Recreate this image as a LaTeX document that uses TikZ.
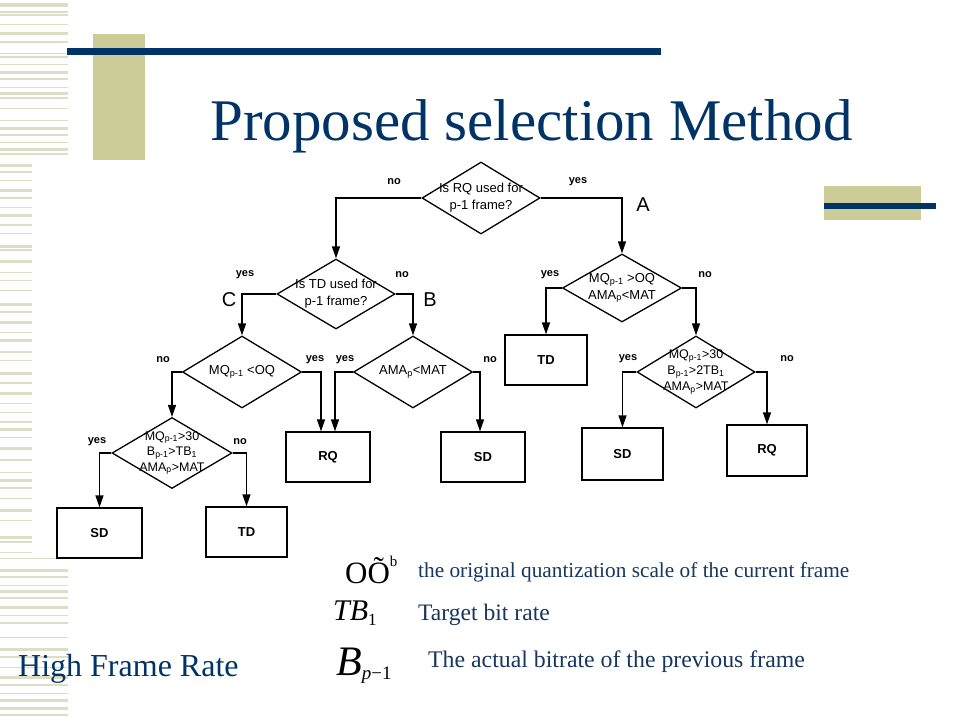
\documentclass[tikz,border=0pt]{standalone}
\usepackage{fontspec}
\setmainfont{Liberation Serif}
\newfontfamily\flowfont{Liberation Sans}
\usetikzlibrary{shapes.geometric,arrows.meta}
\definecolor{navy}{RGB}{0,51,102}
\definecolor{beige}{RGB}{204,204,153}
\definecolor{stripe}{RGB}{222,222,198}
\definecolor{legendblue}{RGB}{23,55,94}
\begin{document}
\begin{tikzpicture}[x=1pt,y=-1pt,
  dia/.style={diamond,draw,line width=1.3pt,inner sep=0pt},
  dtext/.style={font=\flowfont\fontsize{13}{17}\selectfont,align=center,inner sep=0pt},
  fbox/.style={draw,line width=1.3pt,inner sep=0pt,font=\flowfont\bfseries\fontsize{13}{13}\selectfont},
  arr/.style={line width=1.3pt,-{Triangle[width=8pt,length=12pt]}},
  lab/.style={font=\flowfont\bfseries\fontsize{11}{11}\selectfont,inner sep=0pt},
  big/.style={font=\flowfont\fontsize{20}{20}\selectfont,inner sep=0pt},
  legtext/.style={anchor=base west,inner sep=0pt,text=legendblue},
  sym/.style={anchor=base west,inner sep=0pt}]
\useasboundingbox (0,0) rectangle (960,720);
\fill[white] (0,0) rectangle (960,720);
% left stripes
\foreach \y/\t in {5/4,12/1.5,15/1.5,24/1,33/3,42/1.5,53/1,57/1.5,64/1,72/3,79/1.5,87/1,93/3,98/1.5,108/1,120/1,128/3,135/1.5,142/1,149/3,154/1.5}
  \fill[stripe] (0,\y-\t/2) rectangle (68,\y+\t/2);
\foreach \y/\t in {165/3,172/1.5,180/1,190/3,198/1.5,207/1,215/3,225/1.5,233/1,246/3,250/1.5,261/3,272/1,280/1,290/1,304/3,312/1.5,322/3,332/1,340/3,352/1.5,360/1,373/3,383/1.5,393/3,403/1,412/1,422/1.5,429/3,437/1,448/3,460/1.5,472/1,480/3,488/1.5,498/1,510/3,520/1,537/3,542/1.5,552/1}
  \fill[stripe] (0,\y-\t/2) rectangle (32,\y+\t/2);
\foreach \y/\t in {558/1,570/3,577/1.5,585/1,591/3,598/1.5,607/3,615/1,623/1.5,637/1,649/3,657/1.5,667/1,677/3,685/1.5,693/1,700/3,708/3,715/1.5}
  \fill[stripe] (0,\y-\t/2) rectangle (68,\y+\t/2);
% title decoration
\fill[beige] (93,34) rectangle (145,160);
\fill[navy] (67,48) rectangle (661,55);
\fill[beige] (824,186) rectangle (921,220);
\fill[navy] (824,203) rectangle (936,209);
\node[anchor=base,inner sep=0pt,text=navy,font=\fontsize{59}{59}\selectfont] (title) at (531.5,140) {Proposed selection Method};
% diamonds
\node[dia,minimum width=118pt,minimum height=72pt] (d1) at (481,198) {};
\node[dia,minimum width=118pt,minimum height=70pt] (d2) at (336,294) {};
\node[dia,minimum width=119pt,minimum height=68pt] (d3) at (622,288) {};
\node[dia,minimum width=119pt,minimum height=72pt] (d4) at (242,372) {};
\node[dia,minimum width=119pt,minimum height=72pt] (d5) at (413,372) {};
\node[dia,minimum width=118pt,minimum height=72pt] (d6) at (696,372) {};
\node[dia,minimum width=120pt,minimum height=71pt] (d7) at (172,453) {};
\node[dtext] (t1) at (d1) {Is RQ used for\\p-1 frame?};
\node[dtext] (t2) at (d2) {Is TD used for\\p-1 frame?};
\node[dtext] (t3) at (d3) {MQ\textsubscript{p-1} >OQ\\AMA\textsubscript{p}<MAT};
\node[dtext] (t4) at (d4) {MQ\textsubscript{p-1} <OQ};
\node[dtext] (t5) at (d5) {AMA\textsubscript{p}<MAT};
\node[dtext,font=\flowfont\fontsize{12.5}{16}\selectfont] (t6) at (d6) {MQ\textsubscript{p-1}>30\\B\textsubscript{p-1}>2TB\textsubscript{1}\\AMA\textsubscript{p}>MAT};
\node[dtext,font=\flowfont\fontsize{12.5}{15.5}\selectfont] (t7) at (d7) {MQ\textsubscript{p-1}>30\\B\textsubscript{p-1}>TB\textsubscript{1}\\AMA\textsubscript{p}>MAT};
% boxes
\node[fbox,minimum width=82pt,minimum height=50pt] (b1) at (546,360) {TD};
\node[fbox,minimum width=84pt,minimum height=50pt] (b2) at (328,457) {RQ};
\node[fbox,minimum width=84pt,minimum height=50pt] (b3) at (483,457) {SD};
\node[fbox,minimum width=81pt,minimum height=52pt] (b4) at (622.5,454) {SD};
\node[fbox,minimum width=80pt,minimum height=51pt] (b5) at (767,450.5) {RQ};
\node[fbox,minimum width=85pt,minimum height=50pt] (b6) at (99.5,533) {SD};
\node[fbox,minimum width=81pt,minimum height=50pt] (b7) at (246.5,532) {TD};
% connectors
\draw[arr] (d1.west) -| (d2.north);
\draw[arr] (d1.east) -| (d3.north);
\draw[arr] (d2.west) -| (d4.north);
\draw[arr] (d2.east) -| (d5.north);
\draw[arr] (d4.west) -| (d7.north);
\draw[arr] (d4.east) -| ([xshift=-7pt]b2.north);
\draw[arr] (d5.west) -| ([xshift=7pt]b2.north);
\draw[arr] (d5.east) -| ([xshift=-3pt]b3.north);
\draw[arr] (d3.west) -| (b1.north);
\draw[arr] (d3.east) -| (d6.north);
\draw[arr] (d6.west) -| (b4.north);
\draw[arr] (d6.east) -| (b5.north);
\draw[arr] (d7.west) -| (b6.north);
\draw[arr] (d7.east) -| (b7.north);
% branch labels
\node[lab] (n1) at (394,182) {no};
\node[lab] (y1) at (578,182) {yes};
\node[big] (la) at (643,205) {A};
\node[lab] (y2) at (245,275) {yes};
\node[lab] (n2) at (402,275) {no};
\node[big] (lc) at (229,300) {C};
\node[big] (lb) at (430,300) {B};
\node[lab] (n4) at (163,360) {no};
\node[lab] (y4) at (315,360) {yes};
\node[lab] (y5) at (345,360) {yes};
\node[lab] (n5) at (490,360) {no};
\node[lab] (y3) at (550,275) {yes};
\node[lab] (n3) at (705,275) {no};
\node[lab] (y6) at (628,359) {yes};
\node[lab] (n6) at (787,359) {no};
\node[lab] (y7) at (97,442) {yes};
\node[lab] (n7) at (240,442) {no};
% legend
\node[sym,font=\fontsize{31}{31}\selectfont] (s1) at (345,583) {OÕ\raisebox{17pt}{\fontsize{15}{15}\selectfont b}};
\node[legtext,font=\fontsize{21.3}{21.3}\selectfont] (l1) at (418,577) {the original quantization scale of the current frame};
\node[sym,font=\fontsize{30}{30}\selectfont] (s2) at (333,620) {\textit{TB}\raisebox{-5pt}{\fontsize{17}{17}\selectfont 1}};
\node[legtext,font=\fontsize{23.6}{23.6}\selectfont] (l2) at (418,620) {Target bit rate};
\node[sym,font=\fontsize{42}{42}\selectfont] (s3) at (336,675) {\textit{B}\raisebox{-4pt}{\fontsize{19}{19}\selectfont\textit{p}−1}};
\node[legtext,font=\fontsize{23.8}{23.8}\selectfont] (l3) at (428,667) {The actual bitrate of the previous frame};
\node[anchor=base west,inner sep=0pt,text=navy,font=\fontsize{32}{32}\selectfont] (hfr) at (18,676) {High Frame Rate};
\end{tikzpicture}
\end{document}
